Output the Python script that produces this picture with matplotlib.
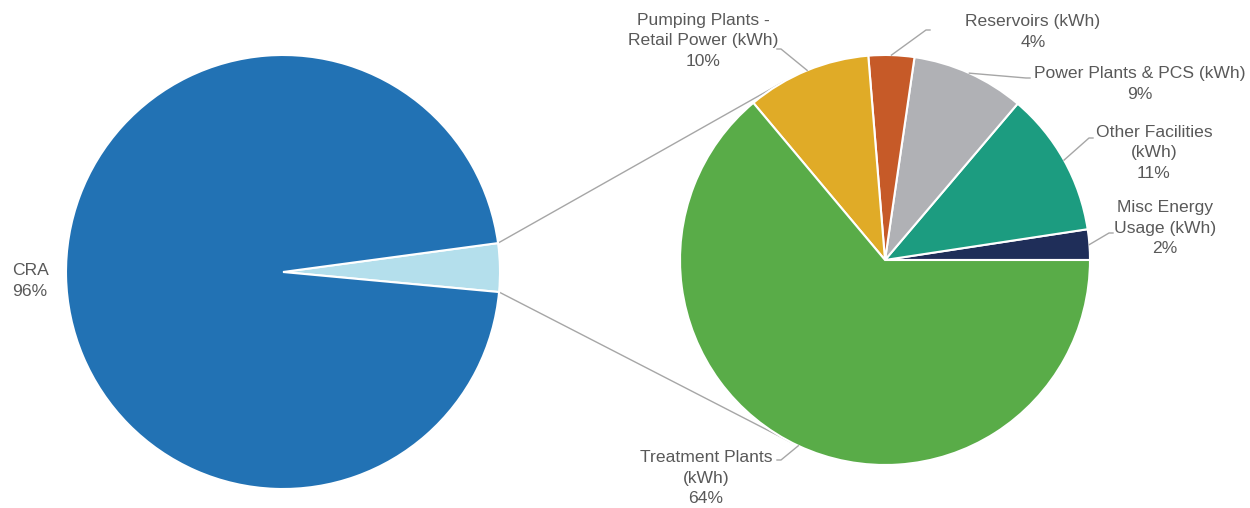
import matplotlib
matplotlib.use('Agg')
import matplotlib.pyplot as plt
import numpy as np

# ---- data ----
main_labels = ['Other', 'CRA']
main_values = [3.6, 96.4]
detail_labels = ['Misc Energy\nUsage (kWh)', 'Other Facilities\n(kWh)',
                 'Power Plants & PCS (kWh)', 'Reservoirs (kWh)',
                 'Pumping Plants -\nRetail Power (kWh)', 'Treatment Plants\n(kWh)']
detail_values = [2.4, 11.4, 8.9, 3.6, 9.8, 63.9]

main_colors = ['#B4DFEC', '#2272B4']
detail_colors = ['#1F2E59', '#1C9C80', '#B0B1B5', '#C65A28', '#E0AB27', '#59AC48']

W, H = 1250, 508
fig = plt.figure(figsize=(W / 100, H / 100), dpi=100)
ax = fig.add_axes([0, 0, 1, 1])

def iy(y):
    return H - y

txt_color = '#595959'
line_color = '#A6A6A6'
fs = 12.6
ls = 1.42

# left pie
lc = np.array([283.0, iy(272)])
lr = 217
lw_, _ = ax.pie(main_values, colors=main_colors, startangle=-5.3, counterclock=True,
                center=tuple(lc), radius=lr,
                wedgeprops=dict(edgecolor='white', linewidth=1.5))
for w in lw_:
    w.set_zorder(3)

# right pie
rc = np.array([885.0, iy(260)])
rr = 205
rw, _ = ax.pie(detail_values, colors=detail_colors, startangle=0, counterclock=True,
               center=tuple(rc), radius=rr,
               wedgeprops=dict(edgecolor='white', linewidth=1.5))
for w in rw:
    w.set_zorder(3)

# connector lines from small slice to tangent points of detail pie
sw = lw_[0]
for ang, sgn in [(sw.theta2, -1), (sw.theta1, 1)]:
    p = lc + lr * np.array([np.cos(np.radians(ang)), np.sin(np.radians(ang))])
    v = p - rc
    d = np.hypot(*v)
    phi = np.arctan2(v[1], v[0])
    t = phi + sgn * np.arccos(rr / d)
    q = rc + rr * np.array([np.cos(t), np.sin(t)])
    ax.plot([p[0], q[0]], [p[1], q[1]], color=line_color, lw=1.0, zorder=1)

# CRA label
ax.text(12, iy(281), f"{main_labels[1]}\n{main_values[1]:.0f}%", ha='left', va='center',
        fontsize=fs, color=txt_color, family='Liberation Sans', linespacing=ls)

# detail labels with leader lines (elbow with short horizontal tail)
label_pos = [(1165, 228), (1154, 153), (1140, 84), (1033, 32), (703, 41), (706, 478)]
anchor_pos = [(1113, 233), (1093, 138), (1030, 78), (930, 30), (777, 49), (777, 460)]
tail = [4, 4, 4, 4, -4, -4]
for w, lab, val, lp, ap, tl in zip(rw, detail_labels, detail_values, label_pos, anchor_pos, tail):
    mid = np.radians((w.theta1 + w.theta2) / 2)
    e = rc + rr * np.array([np.cos(mid), np.sin(mid)])
    ax.plot([e[0], ap[0] - tl, ap[0]], [e[1], iy(ap[1]), iy(ap[1])],
            color=line_color, lw=1.0, zorder=4)
    ax.text(lp[0], iy(lp[1]), f"{lab}\n{val:.0f}%", ha='center', va='center',
            multialignment='center', fontsize=fs, color=txt_color,
            family='Liberation Sans', linespacing=ls, zorder=5)

ax.set_xlim(0, W)
ax.set_ylim(0, H)
ax.set_aspect('equal')
ax.axis('off')
fig.savefig('out.png', dpi=100, facecolor='white')
